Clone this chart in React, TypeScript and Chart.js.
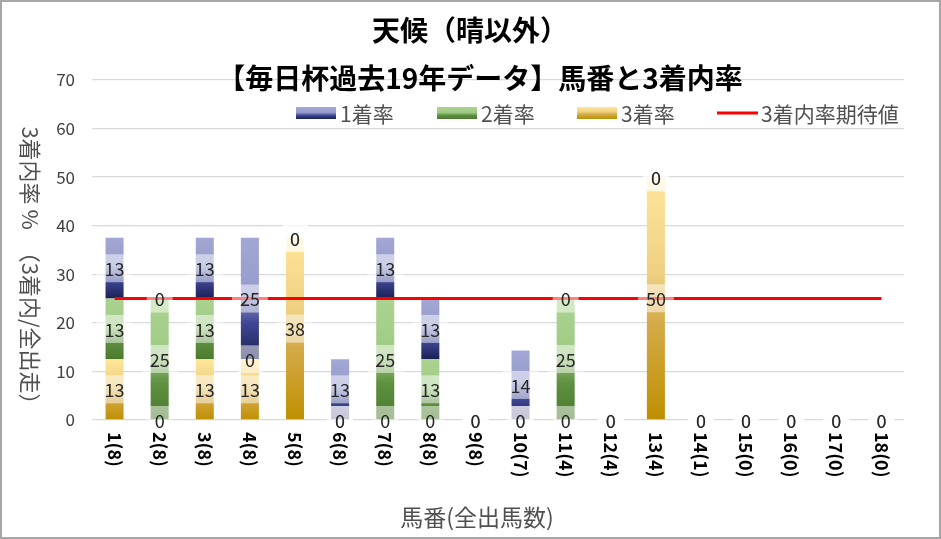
import { useEffect, useRef } from 'react';
import { Chart, registerables } from 'chart.js';

Chart.register(...registerables);

// ---- data ----
const categories = ['1(8)', '2(8)', '3(8)', '4(8)', '5(8)', '6(8)', '7(8)', '8(8)', '9(8)', '10(7)', '11(4)', '12(4)', '13(4)', '14(1)', '15(0)', '16(0)', '17(0)', '18(0)'];
const rate1 = [12.5, 0, 12.5, 25, 0, 12.5, 12.5, 12.5, 0, 14.29, 0, 0, 0, 0, 0, 0, 0, 0];
const rate2 = [12.5, 25, 12.5, 0, 0, 0, 25, 12.5, 0, 0, 25, 0, 0, 0, 0, 0, 0, 0];
const rate3 = [12.5, 0, 12.5, 12.5, 37.5, 0, 0, 0, 0, 0, 0, 0, 50, 0, 0, 0, 0, 0];
const expected = [25, 25, 25, 25, 25, 25, 25, 25, 25, 25, 25, 25, 25, 25, 25, 25, 25, 25];
const seriesNames = ['1着率', '2着率', '3着率', '3着内率期待値'];
const titleLines = ['天候（晴以外）', '【毎日杯過去19年データ】馬番と3着内率'];
const xTitle = '馬番(全出馬数)';
const yTitle = '3着内率 %　（3着内/全出走）';
const yMin = 0;
const yMax = 70;
const yStep = 10;

// ---- styles ----
const FONT = '"Noto Sans CJK JP", "Noto Sans", sans-serif';
type Stops = [number, string][];
const blueStops: Stops = [[0, '#1a2053'], [0.3, '#3f4795'], [0.55, '#969ccc'], [1, '#a2a7d4']];
const greenStops: Stops = [[0, '#4b7a2e'], [0.3, '#5e9040'], [0.55, '#9fcb84'], [1, '#abd390']];
const goldStops: Stops = [[0, '#bf8f00'], [0.4, '#d5ab4a'], [0.6, '#efd082'], [1, '#ffe699']];

function gradient(stops: Stops, baseOf: (i: number) => number) {
  return (ctx: any) => {
    const chart = ctx.chart;
    const ys = chart.scales && chart.scales.y;
    if (!chart.chartArea || !ys || ctx.type !== 'data') return stops[2][1];
    const i = ctx.dataIndex;
    const b = baseOf(i);
    const v = Number(ctx.raw) || 0;
    const y0 = ys.getPixelForValue(b);
    const y1 = ys.getPixelForValue(b + v);
    if (Math.abs(y0 - y1) < 0.5) return stops[0][1];
    const g = chart.ctx.createLinearGradient(0, y0, 0, y1);
    stops.forEach(([o, c]) => g.addColorStop(o, c));
    return g;
  };
}

function boxGradient(c: CanvasRenderingContext2D, stops: Stops, top: number, bottom: number) {
  const g = c.createLinearGradient(0, bottom, 0, top);
  stops.forEach(([o, col]) => g.addColorStop(o, col));
  return g;
}

const decorPlugin = {
  id: 'decor',
  beforeDraw(chart: any) {
    const c = chart.ctx as CanvasRenderingContext2D;
    c.save();
    c.fillStyle = '#ffffff';
    c.fillRect(0, 0, chart.width, chart.height);
    c.restore();
  },
  afterDatasetsDraw(chart: any) {
    const c = chart.ctx as CanvasRenderingContext2D;
    c.save();
    c.font = `18px ${FONT}`;
    c.textAlign = 'center';
    c.textBaseline = 'middle';
    chart.data.datasets.forEach((ds: any, di: number) => {
      if (ds.type !== 'bar') return;
      const meta = chart.getDatasetMeta(di);
      meta.data.forEach((el: any, i: number) => {
        const v = ds.data[i] as number;
        const txt = String(Math.round(v));
        const x = el.x;
        const y = (el.y + el.base) / 2;
        const tw = c.measureText(txt).width;
        const w = tw + 16;
        const h = 28;
        c.fillStyle = 'rgba(255,255,255,0.5)';
        c.fillRect(x - w / 2, y - h / 2, w, h);
        c.fillStyle = '#262626';
        c.fillText(txt, x, y + 1);
      });
    });
    c.restore();
  },
  afterDraw(chart: any) {
    const c = chart.ctx as CanvasRenderingContext2D;
    const xs = chart.scales.x;
    const area = chart.chartArea;
    c.save();
    // titles
    c.fillStyle = '#000000';
    c.textAlign = 'center';
    c.textBaseline = 'middle';
    c.font = `bold 28px ${FONT}`;
    c.fillText(titleLines[0], 470, 30);
    c.fillText(titleLines[1], 480, 78);

    // legend
    c.font = `21px ${FONT}`;
    c.textAlign = 'left';
    const legendY = 113;
    const legendX = [296, 437, 577, 717];
    const legendStops = [blueStops, greenStops, goldStops];
    for (let k = 0; k < 4; k++) {
      const lx = legendX[k];
      if (k < 3) {
        c.fillStyle = boxGradient(c, legendStops[k], legendY - 6, legendY + 6);
        c.fillRect(lx, legendY - 6, 40, 12);
      } else {
        c.strokeStyle = '#ff0000';
        c.lineWidth = 3;
        c.beginPath();
        c.moveTo(lx, legendY);
        c.lineTo(lx + 41, legendY);
        c.stroke();
      }
      c.fillStyle = '#505050';
      c.fillText(seriesNames[k], lx + 44, legendY + 1);
    }

    // x tick labels (rotated clockwise)
    c.fillStyle = '#000000';
    c.font = `bold 18px ${FONT}`;
    c.textAlign = 'left';
    c.textBaseline = 'middle';
    categories.forEach((lab, i) => {
      const x = xs.getPixelForTick(i);
      c.save();
      c.translate(x, area.bottom + 12);
      c.rotate(Math.PI / 2);
      c.fillText(lab, 0, 0);
      c.restore();
    });

    // axis titles
    c.fillStyle = '#505050';
    c.font = `23px ${FONT}`;
    c.textAlign = 'center';
    c.fillText(xTitle, 477, 517);
    c.font = `22px ${FONT}`;
    c.save();
    c.translate(30, 271);
    c.rotate(Math.PI / 2);
    c.fillText(yTitle, 0, 0);
    c.restore();

    // outer border
    c.strokeStyle = '#a6a6a6';
    c.lineWidth = 2;
    c.strokeRect(1, 1, chart.width - 2, chart.height - 2);
    c.restore();
  },
};

export default function App() {
  const ref = useRef<HTMLCanvasElement | null>(null);
  useEffect(() => {
    if (!ref.current) return;
    const chart = new Chart(ref.current, {
      data: {
        labels: categories,
        datasets: [
          {
            type: 'line',
            label: seriesNames[3],
            data: expected,
            borderColor: '#ff0000',
            backgroundColor: '#ff0000',
            borderWidth: 3,
            pointRadius: 0,
            fill: false,
            tension: 0,
            stack: 'line',
            order: 0,
          } as any,
          {
            type: 'bar',
            label: seriesNames[2],
            data: rate3,
            backgroundColor: gradient(goldStops, () => 0),
            stack: 'bars',
            order: 1,
            barPercentage: 0.4,
            categoryPercentage: 1,
          },
          {
            type: 'bar',
            label: seriesNames[1],
            data: rate2,
            backgroundColor: gradient(greenStops, (i) => rate3[i]),
            stack: 'bars',
            order: 1,
            barPercentage: 0.4,
            categoryPercentage: 1,
          },
          {
            type: 'bar',
            label: seriesNames[0],
            data: rate1,
            backgroundColor: gradient(blueStops, (i) => rate3[i] + rate2[i]),
            stack: 'bars',
            order: 1,
            barPercentage: 0.4,
            categoryPercentage: 1,
          },
        ],
      },
      options: {
        responsive: false,
        animation: false,
        events: [],
        layout: { padding: { top: 80, right: 37, bottom: 0, left: 0 } },
        plugins: {
          legend: { display: false },
          title: { display: false },
          tooltip: { enabled: false },
        },
        scales: {
          x: {
            stacked: true,
            offset: true,
            grid: { display: false, drawTicks: false },
            border: { display: false },
            ticks: { display: false },
            afterFit: (s: any) => { s.height = 119; },
          },
          y: {
            stacked: true,
            min: yMin,
            max: yMax,
            ticks: {
              stepSize: yStep,
              padding: 17,
              color: '#404040',
              font: { family: FONT, size: 17 },
            },
            grid: { color: '#d9d9d9', lineWidth: 1.3, drawTicks: false },
            border: { display: false },
            afterFit: (s: any) => { s.width = 92; },
          },
        },
      },
      plugins: [decorPlugin],
    } as any);
    return () => chart.destroy();
  }, []);
  return (
    <div style={{ position: 'fixed', left: 0, top: 0, width: 941, height: 539, background: '#fff' }}>
      <canvas ref={ref} width={941} height={539} style={{ display: 'block' }} />
    </div>
  );
}
